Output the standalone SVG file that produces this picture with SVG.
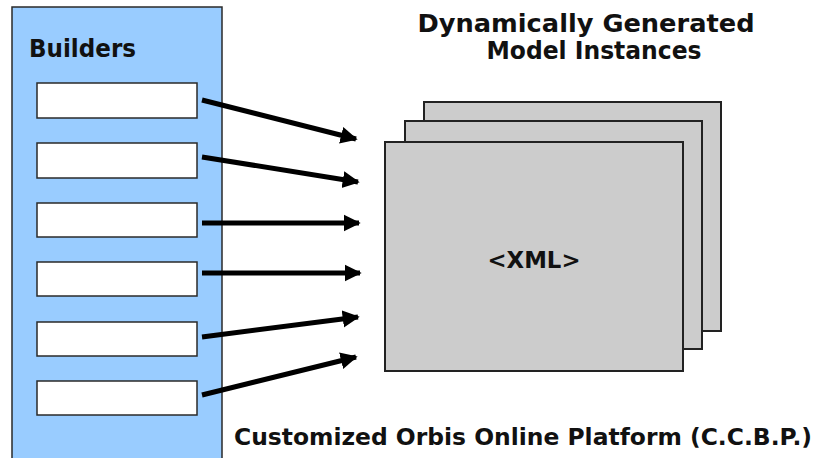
<svg xmlns="http://www.w3.org/2000/svg" width="822" height="458" viewBox="0 0 822 458">
  <defs>
    <style>
      .panel { fill: #99ccff; stroke: #2a2a2a; stroke-width: 1.5; }
      .slot { fill: #ffffff; stroke: #2a2a2a; stroke-width: 1.5; }
      .sheet { fill: #cccccc; stroke: #222222; stroke-width: 2; }
      .wire { stroke: #000000; stroke-width: 5; fill: none; marker-end: url(#head); }
      .label { font-family: "DejaVu Sans", "Liberation Sans", sans-serif; font-weight: bold; fill: #111111; }
    </style>
    <marker id="head" viewBox="0 0 10 10" refX="9" refY="5" markerWidth="3.4" markerHeight="4" orient="auto" markerUnits="strokeWidth">
      <path d="M0,0 L10,5 L0,10 Z" fill="#000000"/>
    </marker>
  </defs>

  <rect width="822" height="458" fill="#ffffff"/>

  <!-- builders column -->
  <g id="builders">
    <rect class="panel" x="12" y="7" width="210" height="460"/>
    <text class="label" x="29" y="57" font-size="24" textLength="107" lengthAdjust="spacingAndGlyphs">Builders</text>
  </g>
  <g id="builder-1"><rect class="slot" x="37" y="83" width="160" height="35"/></g>
  <g id="builder-2"><rect class="slot" x="37" y="143" width="160" height="35"/></g>
  <g id="builder-3"><rect class="slot" x="37" y="203" width="160" height="34"/></g>
  <g id="builder-4"><rect class="slot" x="37" y="262" width="160" height="34"/></g>
  <g id="builder-5"><rect class="slot" x="37" y="322" width="160" height="34"/></g>
  <g id="builder-6"><rect class="slot" x="37" y="381" width="160" height="34"/></g>

  <!-- stacked model instances -->
  <g id="instances">
    <rect class="sheet" x="424" y="102" width="297" height="229"/>
    <rect class="sheet" x="405" y="121" width="297" height="228"/>
    <rect class="sheet" x="385" y="142" width="298" height="229"/>
    <text class="label" x="534" y="268" font-size="23" text-anchor="middle" textLength="93" lengthAdjust="spacingAndGlyphs">&lt;XML&gt;</text>
  </g>

  <g id="title">
    <text class="label" x="586" y="32" font-size="24" text-anchor="middle" textLength="337" lengthAdjust="spacingAndGlyphs">Dynamically Generated</text>
    <text class="label" x="594" y="59" font-size="24" text-anchor="middle" textLength="215" lengthAdjust="spacingAndGlyphs">Model Instances</text>
  </g>

  <g id="platform">
    <text class="label" x="234" y="445" font-size="23" textLength="578" lengthAdjust="spacingAndGlyphs">Customized Orbis Online Platform (C.C.B.P.)</text>
  </g>

  <!-- connectors -->
  <g id="connectors">
    <line class="wire" x1="202" y1="100" x2="356" y2="139"/>
    <line class="wire" x1="202" y1="157" x2="358" y2="182"/>
    <line class="wire" x1="202" y1="223" x2="359" y2="223"/>
    <line class="wire" x1="202" y1="273" x2="360" y2="273"/>
    <line class="wire" x1="202" y1="337" x2="358" y2="317"/>
    <line class="wire" x1="202" y1="395" x2="356" y2="357"/>
  </g>
</svg>
